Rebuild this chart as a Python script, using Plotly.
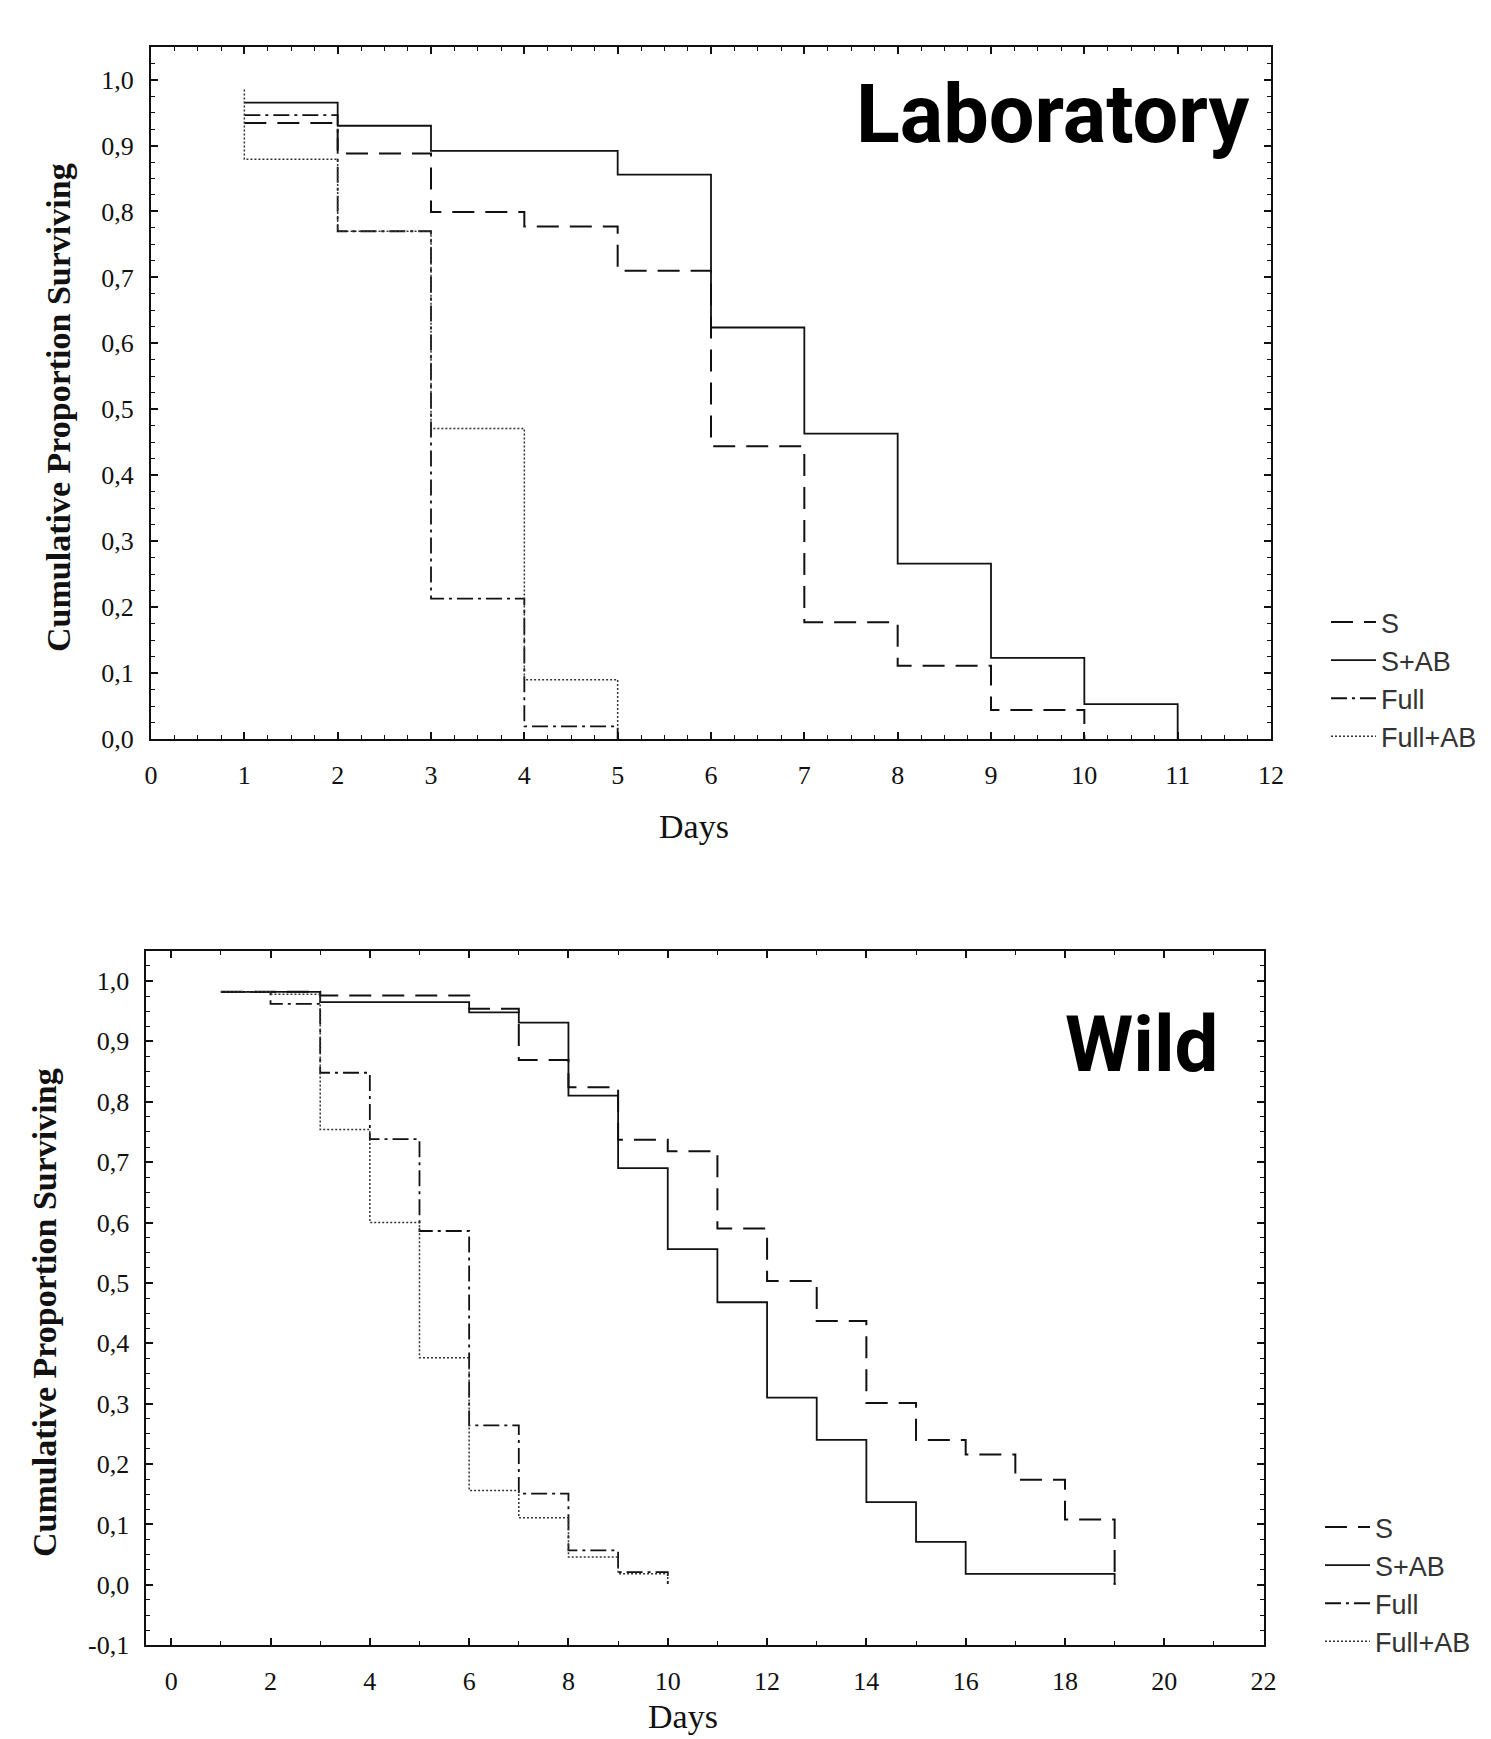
import plotly.graph_objects as go

# ---------------- Data ----------------
series_names = ["S", "S+AB", "Full", "Full+AB"]

# Laboratory panel: day at which each step starts, proportion surviving from that day on
lab_S_days = [1, 2, 3, 4, 5, 6, 7, 8, 9, 10]
lab_S_vals = [0.934, 0.888, 0.799, 0.777, 0.710, 0.444, 0.177, 0.111, 0.044, 0.0]
lab_SAB_days = [1, 2, 3, 5, 6, 7, 8, 9, 10, 11]
lab_SAB_vals = [0.965, 0.930, 0.892, 0.856, 0.624, 0.463, 0.266, 0.123, 0.053, 0.0]
lab_Full_days = [1, 2, 3, 4, 5]
lab_Full_vals = [0.946, 0.770, 0.213, 0.019, 0.0]
lab_FullAB_days = [1, 1, 2, 3, 4, 5]
lab_FullAB_vals = [0.985, 0.879, 0.770, 0.471, 0.090, 0.0]

# Wild panel
wild_S_days = [1, 3, 6, 7, 8, 9, 10, 11, 12, 13, 14, 15, 16, 17, 18, 19]
wild_S_vals = [0.982, 0.976, 0.954, 0.869, 0.824, 0.737, 0.718, 0.590, 0.503, 0.437,
               0.301, 0.240, 0.216, 0.174, 0.108, 0.0]
wild_SAB_days = [1, 3, 6, 7, 8, 9, 10, 11, 12, 13, 14, 15, 16, 19]
wild_SAB_vals = [0.982, 0.965, 0.948, 0.931, 0.810, 0.690, 0.556, 0.468, 0.310, 0.240,
                 0.137, 0.071, 0.018, 0.0]
wild_Full_days = [1, 2, 3, 4, 5, 6, 7, 8, 9, 10]
wild_Full_vals = [0.982, 0.962, 0.848, 0.738, 0.586, 0.264, 0.151, 0.057, 0.021, 0.0]
wild_FullAB_days = [1, 2, 3, 4, 5, 6, 7, 8, 9, 10]
wild_FullAB_vals = [0.982, 0.978, 0.754, 0.600, 0.376, 0.156, 0.111, 0.046, 0.0185, 0.0]

lab_y_ticks = [0.0, 0.1, 0.2, 0.3, 0.4, 0.5, 0.6, 0.7, 0.8, 0.9, 1.0]
wild_y_ticks = [-0.1, 0.0, 0.1, 0.2, 0.3, 0.4, 0.5, 0.6, 0.7, 0.8, 0.9, 1.0]
lab_x_ticks = list(range(0, 13))
wild_x_ticks = list(range(0, 23, 2))

panel_labels = ["Laboratory", "Wild"]
x_title = "Days"
y_title = "Cumulative Proportion Surviving"

# ---------------- Styles ----------------
W, H = 1491, 1739
styles = {
    "S": dict(color="#111", width=2.0, dash="22px,11px"),
    "S+AB": dict(color="#111", width=1.8, dash="solid"),
    "Full": dict(color="#111", width=1.8, dash="16px,5px,3px,5px"),
    "Full+AB": dict(color="#333", width=1.5, dash="2px,2px"),
}

def comma(v):
    return f"{v:.1f}".replace(".", ",")

fig = go.Figure()

lab = [(lab_S_days, lab_S_vals), (lab_SAB_days, lab_SAB_vals),
       (lab_Full_days, lab_Full_vals), (lab_FullAB_days, lab_FullAB_vals)]
wild = [(wild_S_days, wild_S_vals), (wild_SAB_days, wild_SAB_vals),
        (wild_Full_days, wild_Full_vals), (wild_FullAB_days, wild_FullAB_vals)]

for name, (d, v) in zip(series_names, lab):
    fig.add_trace(go.Scatter(x=d, y=v, mode="lines", name=name, line=dict(shape="hv", **styles[name]),
                             xaxis="x", yaxis="y", legend="legend", hoverinfo="skip"))
for name, (d, v) in zip(series_names, wild):
    fig.add_trace(go.Scatter(x=d, y=v, mode="lines", name=name, line=dict(shape="hv", **styles[name]),
                             xaxis="x2", yaxis="y2", legend="legend2", hoverinfo="skip"))

tickfont = dict(family="Liberation Serif", size=26, color="#111")
axis_common = dict(showline=True, linewidth=2, linecolor="#111", mirror="allticks",
                   ticks="inside", ticklen=7, tickwidth=1.5, tickcolor="#111",
                   showgrid=False, zeroline=False, tickfont=tickfont)
minor_style = dict(ticks="inside", ticklen=4, tickcolor="#111", tickwidth=1.2)
legend_font = dict(family="Liberation Sans", size=27, color="#333")

fig.update_layout(
    width=W, height=H, autosize=False,
    margin=dict(l=0, r=0, t=0, b=0, autoexpand=False),
    paper_bgcolor="white", plot_bgcolor="white",
    showlegend=True,
    xaxis=dict(domain=[151 / W, 1271 / W], range=[0, 12], anchor="y",
               tickvals=lab_x_ticks, ticktext=[str(t) for t in lab_x_ticks],
               ticklabelstandoff=12, minor=dict(dtick=0.25, **minor_style), **axis_common),
    yaxis=dict(domain=[1 - 739 / H, 1 - 46.6 / H], range=[0, 1.05], anchor="x",
               tickvals=lab_y_ticks, ticktext=[comma(t) for t in lab_y_ticks],
               ticklabelstandoff=10, minor=dict(dtick=0.025, **minor_style), **axis_common),
    xaxis2=dict(domain=[146.4 / W, 1263.6 / W], range=[-0.5, 22], anchor="y2",
                tickvals=wild_x_ticks, ticktext=[str(t) for t in wild_x_ticks],
                ticklabelstandoff=12, minor=dict(dtick=1, **minor_style), **axis_common),
    yaxis2=dict(domain=[1 - 1645.2 / H, 1 - 950.8 / H], range=[-0.1, 1.05], anchor="x2",
                tickvals=wild_y_ticks, ticktext=[comma(t) for t in wild_y_ticks],
                ticklabelstandoff=10, minor=dict(dtick=0.025, **minor_style), **axis_common),
    legend=dict(x=1326 / W, xanchor="left", y=1 - 598 / H, yanchor="top", font=legend_font,
                bgcolor="rgba(0,0,0,0)", itemwidth=45, tracegroupgap=0),
    legend2=dict(x=1320 / W, xanchor="left", y=1 - 1503 / H, yanchor="top", font=legend_font,
                 bgcolor="rgba(0,0,0,0)", itemwidth=45, tracegroupgap=0),
)

annos = [
    dict(text="<b>" + panel_labels[0] + "</b>", x=1252 / W, y=1 - 115 / H, xanchor="right", yanchor="middle",
         font=dict(family="Roboto", size=81, color="black")),
    dict(text="<b>" + panel_labels[1] + "</b>", x=1220 / W, y=1 - 1044 / H, xanchor="right", yanchor="middle",
         font=dict(family="Roboto", size=78, color="black")),
    dict(text="<b>" + y_title + "</b>", x=58 / W, y=1 - 408 / H, xanchor="center", yanchor="middle",
         textangle=-90, font=dict(family="Liberation Serif", size=34, color="#111")),
    dict(text="<b>" + y_title + "</b>", x=44 / W, y=1 - 1313 / H, xanchor="center", yanchor="middle",
         textangle=-90, font=dict(family="Liberation Serif", size=34, color="#111")),
    dict(text=x_title, x=694 / W, y=1 - 826 / H, xanchor="center", yanchor="middle",
         font=dict(family="Liberation Serif", size=34, color="#111")),
    dict(text=x_title, x=683 / W, y=1 - 1716 / H, xanchor="center", yanchor="middle",
         font=dict(family="Liberation Serif", size=34, color="#111")),
]
for a in annos:
    fig.add_annotation(xref="paper", yref="paper", showarrow=False, **a)

fig.write_html("out.html", config={"displayModeBar": False},
               post_script="document.body.style.margin='0';")
